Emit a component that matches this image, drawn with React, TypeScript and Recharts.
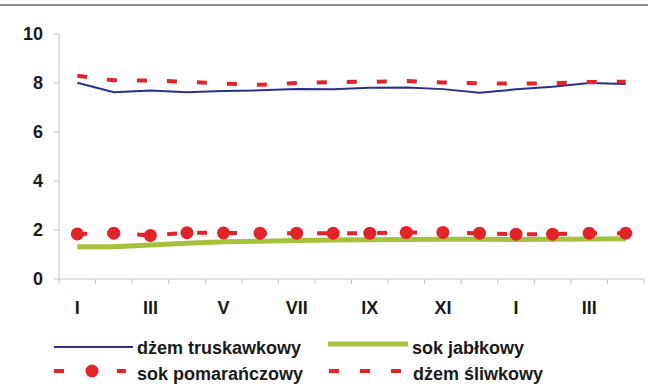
import { LineChart, Line, XAxis, YAxis } from "recharts";

// months: January of one year through April of the next
const months = ["I", "II", "III", "IV", "V", "VI", "VII", "VIII", "IX", "X", "XI", "XII", "I", "II", "III", "IV"];

const dzemTruskawkowy = [8.01, 7.62, 7.69, 7.62, 7.67, 7.7, 7.75, 7.74, 7.81, 7.82, 7.75, 7.6, 7.74, 7.85, 8.0, 7.96];
const sokJablkowy = [1.32, 1.32, 1.39, 1.46, 1.52, 1.54, 1.57, 1.59, 1.6, 1.61, 1.62, 1.62, 1.61, 1.62, 1.63, 1.64];
const sokPomaranczowy = [1.84, 1.87, 1.78, 1.89, 1.88, 1.87, 1.87, 1.87, 1.87, 1.9, 1.9, 1.87, 1.83, 1.83, 1.87, 1.87];
const dzemSliwkowy = [8.3, 8.11, 8.1, 8.05, 7.97, 7.93, 8.0, 8.04, 8.05, 8.08, 8.02, 7.99, 7.97, 7.99, 8.04, 8.05];

const yTicks = [0, 2, 4, 6, 8, 10];

const RED = "#e3232a";
const BLUE = "#2a318c";
const GREEN = "#a6c23c";
const AXIS = "#c4c4c4";
const FONT = "'Liberation Sans', Arial, sans-serif";
const TEXT = "#1a1a1a";

const data = months.map((m, i) => ({
  i,
  month: m,
  truskawkowy: dzemTruskawkowy[i],
  jablkowy: sokJablkowy[i],
  pomaranczowy: sokPomaranczowy[i],
  sliwkowy: dzemSliwkowy[i],
}));

// tick marks sit on the month boundaries, labels on every other month
const xTicks = Array.from({ length: months.length * 2 + 1 }, (_, k) => k / 2 - 0.5);

function MonthTick(props: any) {
  const { x, y, payload } = props;
  const v = payload.value as number;
  if (!Number.isInteger(v)) {
    return <line x1={x} x2={x} y1={y} y2={y + 5} stroke={AXIS} strokeWidth={1} />;
  }
  if (v % 2 !== 0) return <g />;
  return (
    <text x={x} y={y + 35} textAnchor="middle" fontFamily={FONT} fontWeight="bold" fontSize={18} fill={TEXT}>
      {months[v]}
    </text>
  );
}

function Legend() {
  const txt = { fontFamily: FONT, fontWeight: "bold" as const, fontSize: 18, fill: TEXT };
  return (
    <svg width={648} height={389} style={{ position: "absolute", left: 0, top: 0, pointerEvents: "none" }}>
      <line x1={0} x2={648} y1={5} y2={5} stroke="#8c8c8c" strokeWidth={2} />
      <line x1={54} x2={133} y1={347} y2={347} stroke={BLUE} strokeWidth={2} />
      <text x={137} y={354} {...txt}>dżem truskawkowy</text>
      <line x1={328} x2={408} y1={344} y2={344} stroke={GREEN} strokeWidth={5} />
      <text x={412} y={354} {...txt}>sok jabłkowy</text>
      <line x1={54} x2={126} y1={371} y2={371} stroke={RED} strokeWidth={4} strokeDasharray="10 53 10" />
      <circle cx={92} cy={371} r={6.5} fill={RED} />
      <text x={137} y={380} {...txt}>sok pomarańczowy</text>
      <line x1={329} x2={402} y1={371} y2={371} stroke={RED} strokeWidth={4} strokeDasharray="10 21" />
      <text x={413} y={380} {...txt}>dżem śliwkowy</text>
    </svg>
  );
}

export default function App() {
  return (
    <div style={{ position: "absolute", left: 0, top: 0, width: 648, height: 389, background: "#fff" }}>
      <LineChart width={648} height={389} data={data} margin={{ top: 34, right: 4, bottom: 70, left: 0 }}>
        <XAxis
          dataKey="i"
          type="number"
          domain={[-0.5, 15.5]}
          ticks={xTicks}
          interval={0}
          height={40}
          tickSize={0}
          tickMargin={0}
          tickLine={false}
          axisLine={{ stroke: AXIS }}
          tick={<MonthTick />}
        />
        <YAxis
          domain={[0, 10]}
          ticks={yTicks}
          width={59}
          tickSize={5}
          tickMargin={11}
          axisLine={{ stroke: AXIS }}
          tickLine={{ stroke: AXIS }}
          tick={{ fontFamily: FONT, fontWeight: "bold", fontSize: 18, fill: TEXT }}
        />
        <Line dataKey="truskawkowy" stroke={BLUE} strokeWidth={2} dot={false} isAnimationActive={false} />
        <Line dataKey="jablkowy" stroke={GREEN} strokeWidth={5} dot={false} isAnimationActive={false} />
        <Line
          dataKey="sliwkowy"
          stroke={RED}
          strokeWidth={4}
          strokeDasharray="10 20"
          dot={false}
          isAnimationActive={false}
        />
        <Line
          dataKey="pomaranczowy"
          stroke={RED}
          strokeWidth={4}
          strokeDasharray="10 20"
          dot={{ r: 6.5, fill: RED, stroke: "none" }}
          isAnimationActive={false}
        />
      </LineChart>
      <Legend />
    </div>
  );
}
